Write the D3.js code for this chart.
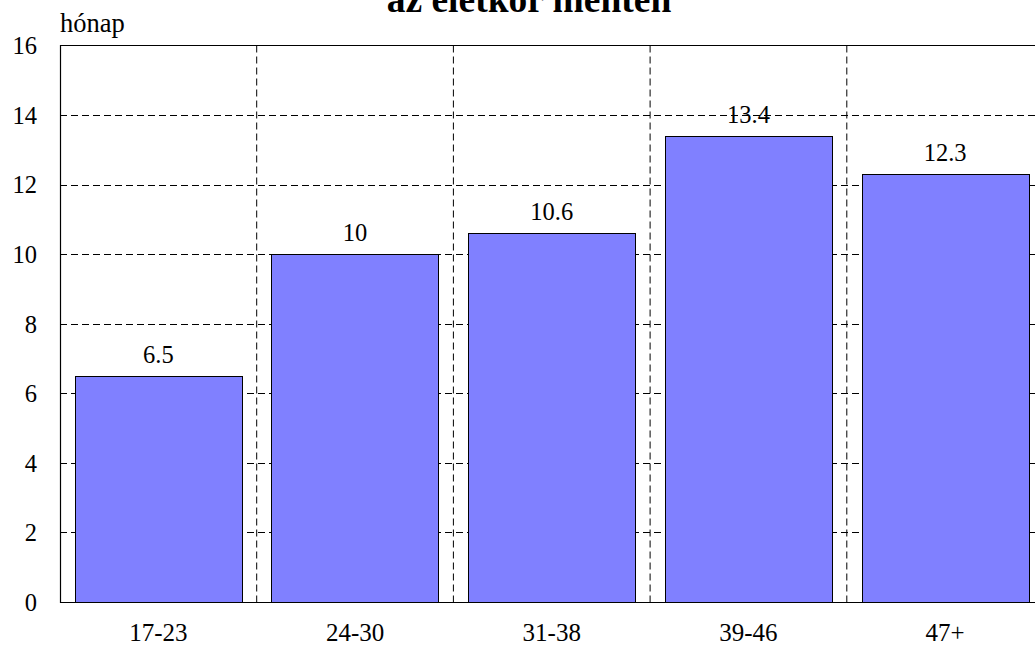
<!DOCTYPE html>
<html>
<head>
<meta charset="utf-8">
<script src="https://cdn.jsdelivr.net/npm/d3@7"></script>
<style>
  html, body { margin: 0; padding: 0; background: #fff; }
  svg { display: block; }
  text { font-family: "Liberation Serif", "Times New Roman", serif; fill: #000; }
</style>
</head>
<body>
<script>
// Age groups and average duration (months)
const categories = ["17-23", "24-30", "31-38", "39-46", "47+"];
const values = [6.5, 10, 10.6, 13.4, 12.3];
const yTicks = [0, 2, 4, 6, 8, 10, 12, 14, 16];
const titleText = "az életkor mentén";
const yLabel = "hónap";

const W = 1035, H = 645;
const plot = { left: 60, top: 45.5, bottom: 602, step: 196.7 };
const plotRight = plot.left + plot.step * categories.length;

const svg = d3.select("body").append("svg")
  .attr("width", W).attr("height", H);

const x = d3.scaleBand()
  .domain(categories)
  .range([plot.left, plotRight])
  .paddingInner(0.15)
  .paddingOuter(0.075);

const y = d3.scaleLinear()
  .domain([0, 16])
  .range([plot.bottom, plot.top]);

// dashed horizontal grid
svg.append("g")
  .selectAll("line")
  .data(yTicks.filter(t => t > 0 && t < 16))
  .join("line")
  .attr("x1", plot.left).attr("x2", plotRight)
  .attr("y1", d => Math.round(y(d)) + 0.5).attr("y2", d => Math.round(y(d)) + 0.5)
  .attr("stroke", "#000").attr("stroke-width", 1)
  .attr("stroke-dasharray", "7,4");

// dashed vertical grid at group boundaries
const bounds = categories.slice(1).map(c => x(c) - x.step() * x.paddingInner() / 2);
svg.append("g")
  .selectAll("line")
  .data(bounds)
  .join("line")
  .attr("x1", d => d).attr("x2", d => d)
  .attr("y1", plot.top).attr("y2", plot.bottom)
  .attr("stroke", "#000").attr("stroke-width", 1)
  .attr("stroke-dasharray", "7,4");

// bars
svg.append("g")
  .selectAll("rect")
  .data(values)
  .join("rect")
  .attr("x", (d, i) => Math.round(x(categories[i])) + 0.5)
  .attr("width", Math.round(x.bandwidth()))
  .attr("y", d => Math.round(y(d)) + 0.5)
  .attr("height", d => Math.round(y(0)) - Math.round(y(d)))
  .attr("fill", "#8080ff")
  .attr("stroke", "#000").attr("stroke-width", 1);

// value labels
svg.append("g")
  .selectAll("text")
  .data(values)
  .join("text")
  .attr("x", (d, i) => x(categories[i]) + x.bandwidth() / 2)
  .attr("y", d => y(d) - 13)
  .attr("text-anchor", "middle")
  .attr("font-size", 24.5)
  .text(d => d);

// frame: left axis, top and bottom border
svg.append("path")
  .attr("d", `M${plotRight},${plot.top}H${plot.left + 0.5}V${plot.bottom + 0.5}H${plotRight}`)
  .attr("fill", "none").attr("stroke", "#000").attr("stroke-width", 1.2);

// y axis tick labels
const yAxis = d3.axisLeft(y).tickValues(yTicks).tickSize(0).tickPadding(0);
const yg = svg.append("g").attr("transform", "translate(37,0)").call(yAxis);
yg.select(".domain").remove();
yg.selectAll("text")
  .attr("font-size", 24.5)
  .attr("font-family", "Liberation Serif, serif")
  .attr("dy", "0.34em");

// x axis category labels
const xAxis = d3.axisBottom(x).tickSize(0).tickPadding(0);
const xg = svg.append("g").attr("transform", "translate(0,641)").call(xAxis);
xg.select(".domain").remove();
xg.selectAll("text")
  .attr("font-size", 25)
  .attr("font-family", "Liberation Serif, serif")
  .attr("dy", 0)
  .attr("y", 0);

// y axis label
svg.append("text")
  .attr("x", 60).attr("y", 31.5)
  .attr("font-size", 26.5)
  .text(yLabel);

// title
svg.append("text")
  .attr("x", 529).attr("y", 12)
  .attr("text-anchor", "middle")
  .attr("font-size", 37.5)
  .attr("font-weight", "bold")
  .text(titleText);
</script>
</body>
</html>
